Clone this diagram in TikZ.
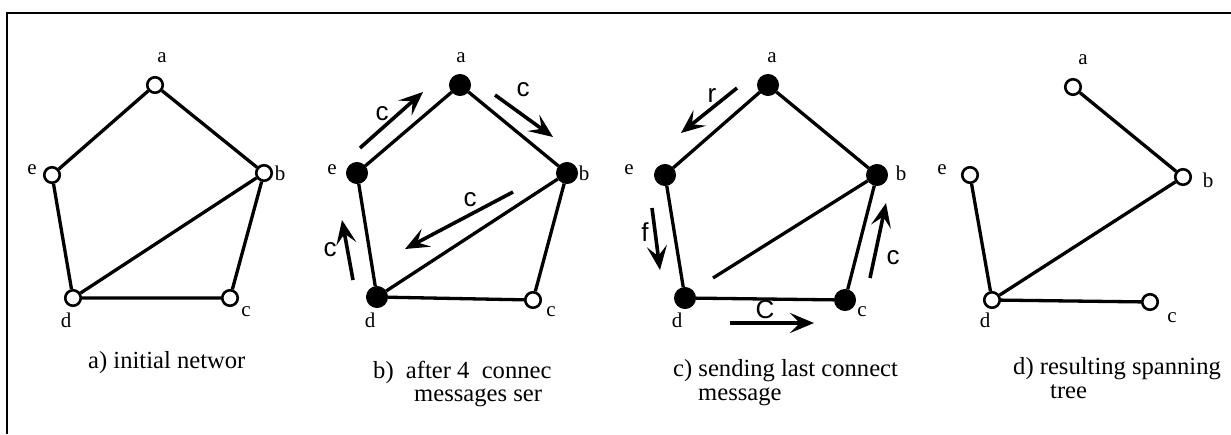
\documentclass[tikz,border=0pt]{standalone}
\usepackage{fontspec}
\setmainfont{Liberation Serif}
\setsansfont{Liberation Sans}
\usetikzlibrary{arrows.meta, positioning}

\begin{document}
\begin{tikzpicture}[
  x=1pt, y=-1pt,
  open/.style={circle, draw, line width=2.6pt, fill=white, inner sep=0pt, minimum size=15.5pt},
  full/.style={circle, draw, line width=1pt, fill=black, inner sep=0pt, minimum size=21pt},
  edge/.style={line width=3.3pt},
  msg/.style={-{Stealth[length=24pt, width=20pt, inset=10pt]}, line width=3.6pt},
  lbl/.style={font=\fontsize{21}{23}\selectfont, inner sep=1pt},
  mlbl/.style={font=\sffamily\fontsize{26}{28}\selectfont, inner sep=1pt},
  captxt/.style={font=\fontsize{24.6}{27}\selectfont, anchor=base west, inner sep=0pt},
]
\useasboundingbox (0,0) rectangle (1231,434);
\draw[line width=2.4pt] (7,434) -- (7,13) -- (1231,13);

% a) initial network
\node[open] (a1) at (155,85) {};
\node[open] (e1) at (52,175) {};
\node[open] (b1) at (264,173) {};
\node[open] (d1) at (73,298) {};
\node[open] (c1) at (230,298) {};
\draw[edge] (a1) -- (e1) (a1) -- (b1) (e1) -- (d1) (b1) -- (c1) (d1) -- (c1) (d1) -- (b1);
\node[lbl] (la1) at (162,58) {a};
\node[lbl] (le1) at (32,170) {e};
\node[lbl] (lb1) at (280,173) {b};
\node[lbl] (ld1) at (66,320) {d};
\node[lbl] (lc1) at (246,312) {c};
\node[captxt] (capa) at (88,368) {a) initial networ};

% b) after 4 connect messages
\node[full] (a2) at (460,85) {};
\node[full] (e2) at (357,173) {};
\node[full] (b2) at (567,173) {};
\node[full] (d2) at (377,297) {};
\node[open] (c2) at (533,300) {};
\draw[edge] (a2) -- (e2) (a2) -- (b2) (e2) -- (d2) (b2) -- (c2) (d2) -- (c2) (d2) -- (b2);
\node[lbl] (la2) at (461,58) {a};
\node[lbl] (le2) at (332,170) {e};
\node[lbl] (lb2) at (584,173) {b};
\node[lbl] (ld2) at (370,320) {d};
\node[lbl] (lc2) at (551,312) {c};
\coordinate (m1s) at (360,148); \coordinate (m1e) at (423,92);
\coordinate (m2s) at (495,95);  \coordinate (m2e) at (553,137);
\coordinate (m3s) at (513,192); \coordinate (m3e) at (405,249);
\coordinate (m4s) at (353,280); \coordinate (m4e) at (342,220);
\draw[msg] (m1s) -- (m1e);
\draw[msg] (m2s) -- (m2e);
\draw[msg] (m3s) -- (m3e);
\draw[msg] (m4s) -- (m4e);
\node[mlbl] (c2a) at (382,114) {c};
\node[mlbl] (c2b) at (523,90) {c};
\node[mlbl] (c2c) at (470,200) {c};
\node[mlbl] (c2d) at (330,250) {c};
\node[captxt] (capb1) at (373,378) {b)\ \ after 4\ \ connec};
\node[captxt] (capb2) at (414,401) {messages ser};

% c) sending last connect message
\node[full] (a3) at (768,85) {};
\node[full] (e3) at (665,175) {};
\node[full] (b3) at (877,175) {};
\node[full] (d3) at (685,298) {};
\node[full] (c3) at (845,300) {};
\coordinate (brk) at (713,278);
\draw[edge] (a3) -- (e3) (a3) -- (b3) (e3) -- (d3) (b3) -- (c3) (d3) -- (c3) (b3) -- (brk);
\node[lbl] (la3) at (772,58) {a};
\node[lbl] (le3) at (629,170) {e};
\node[lbl] (lb3) at (901,173) {b};
\node[lbl] (ld3) at (677,320) {d};
\node[lbl] (lc3) at (862,312) {c};
\coordinate (m5s) at (737,88);  \coordinate (m5e) at (681,133);
\coordinate (m6s) at (652,208); \coordinate (m6e) at (660,270);
\coordinate (m7s) at (870,278); \coordinate (m7e) at (886,203);
\coordinate (m8s) at (730,323); \coordinate (m8e) at (814,323);
\draw[msg] (m5s) -- (m5e);
\draw[msg] (m6s) -- (m6e);
\draw[msg] (m7s) -- (m7e);
\draw[msg] (m8s) -- (m8e);
\node[mlbl] (r3) at (712,96) {r};
\node[mlbl] (f3) at (645,232) {f};
\node[mlbl] (c3a) at (893,258) {c};
\node[mlbl] (c3b) at (765,310) {C};
\node[captxt] (capc1) at (673,376) {c) sending last connect};
\node[captxt] (capc2) at (698,400) {message};

% d) resulting spanning tree
\node[open] (a4) at (1073,87) {};
\node[open] (e4) at (970,175) {};
\node[open] (b4) at (1183,177) {};
\node[open] (d4) at (992,300) {};
\node[open] (c4) at (1150,302) {};
\draw[edge] (a4) -- (b4) (b4) -- (d4) (e4) -- (d4) (d4) -- (c4);
\node[lbl] (la4) at (1083,60) {a};
\node[lbl] (le4) at (942,170) {e};
\node[lbl] (lb4) at (1208,180) {b};
\node[lbl] (ld4) at (985,320) {d};
\node[lbl] (lc4) at (1172,318) {c};
\node[captxt] (capd1) at (1013,374) {d) resulting spanning};
\node[captxt] (capd2) at (1050,398) {tree};
\end{tikzpicture}
\end{document}
